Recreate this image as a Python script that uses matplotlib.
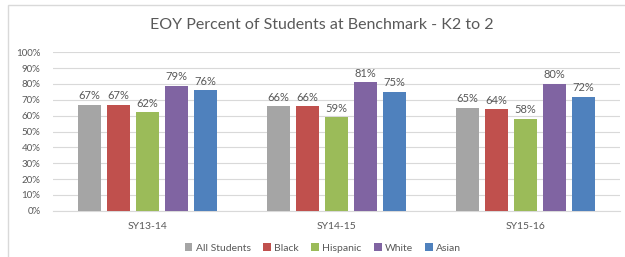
import numpy as np
import matplotlib
matplotlib.use("Agg")
import matplotlib.pyplot as plt
from matplotlib.patches import Rectangle

plt.rcParams['font.family'] = ['Lato', 'DejaVu Sans']

years = ["SY13-14", "SY14-15", "SY15-16"]
groups = ["All Students", "Black", "Hispanic", "White", "Asian"]
all_students = [67, 66, 65]
black = [67, 66, 64]
hispanic = [62, 59, 58]
white = [79, 81, 80]
asian = [76, 75, 72]
series = [all_students, black, hispanic, white, asian]
colors = ["#A5A5A5", "#C0504D", "#9BBB59", "#8064A2", "#4F81BD"]

TXT = "#595959"
W, H = 625, 257
fig = plt.figure(figsize=(W / 100, H / 100), dpi=100)
# chart frame (only left/top visible in the crop)
fig.patches.append(Rectangle((8 / W, -0.2), 1.2, (H - 5) / H + 0.2,
                             transform=fig.transFigure, fill=False,
                             ec="#D9D9D9", lw=1.0))

ax = fig.add_axes([53 / W, (H - 210.7) / H, (620 - 53) / W, (210.7 - 52.3) / H])
x = np.arange(len(years))
bw, step = 0.122, 0.153
for i, (vals, c, name) in enumerate(zip(series, colors, groups)):
    pos = x + (i - 2) * step
    ax.bar(pos, vals, bw, color=c, label=name, zorder=3)
    for px, v in zip(pos, vals):
        ax.text(px, v + 2.2, f"{v}%", ha="center", va="bottom",
                fontsize=8, color=TXT)

ax.set_xlim(-0.5, 2.5)
ax.set_ylim(0, 100)
ax.set_yticks(range(0, 101, 10))
ax.set_yticklabels([f"{t}%" for t in range(0, 101, 10)], fontsize=7, color=TXT)
ax.set_xticks(x)
ax.set_xticklabels(years, fontsize=7.5, color=TXT)
ax.tick_params(length=0, pad=8)
ax.tick_params(axis="y", pad=9)
ax.grid(axis="y", color="#D9D9D9", lw=0.8, zorder=0)
for s in ["top", "right", "left"]:
    ax.spines[s].set_visible(False)
ax.spines["bottom"].set_color("#D9D9D9")

fig.text(322 / W, (H - 25) / H, "EOY Percent of Students at Benchmark - K2 to 2",
         ha="center", va="center", fontsize=11.5, color=TXT)

fig.legend(loc="center", bbox_to_anchor=(323 / W, 9 / H), ncol=5, frameon=False,
           fontsize=7.5, labelcolor=TXT, handlelength=0.75, handleheight=0.75,
           handletextpad=0.3, columnspacing=1.2)

fig.savefig("out.png", dpi=100)
